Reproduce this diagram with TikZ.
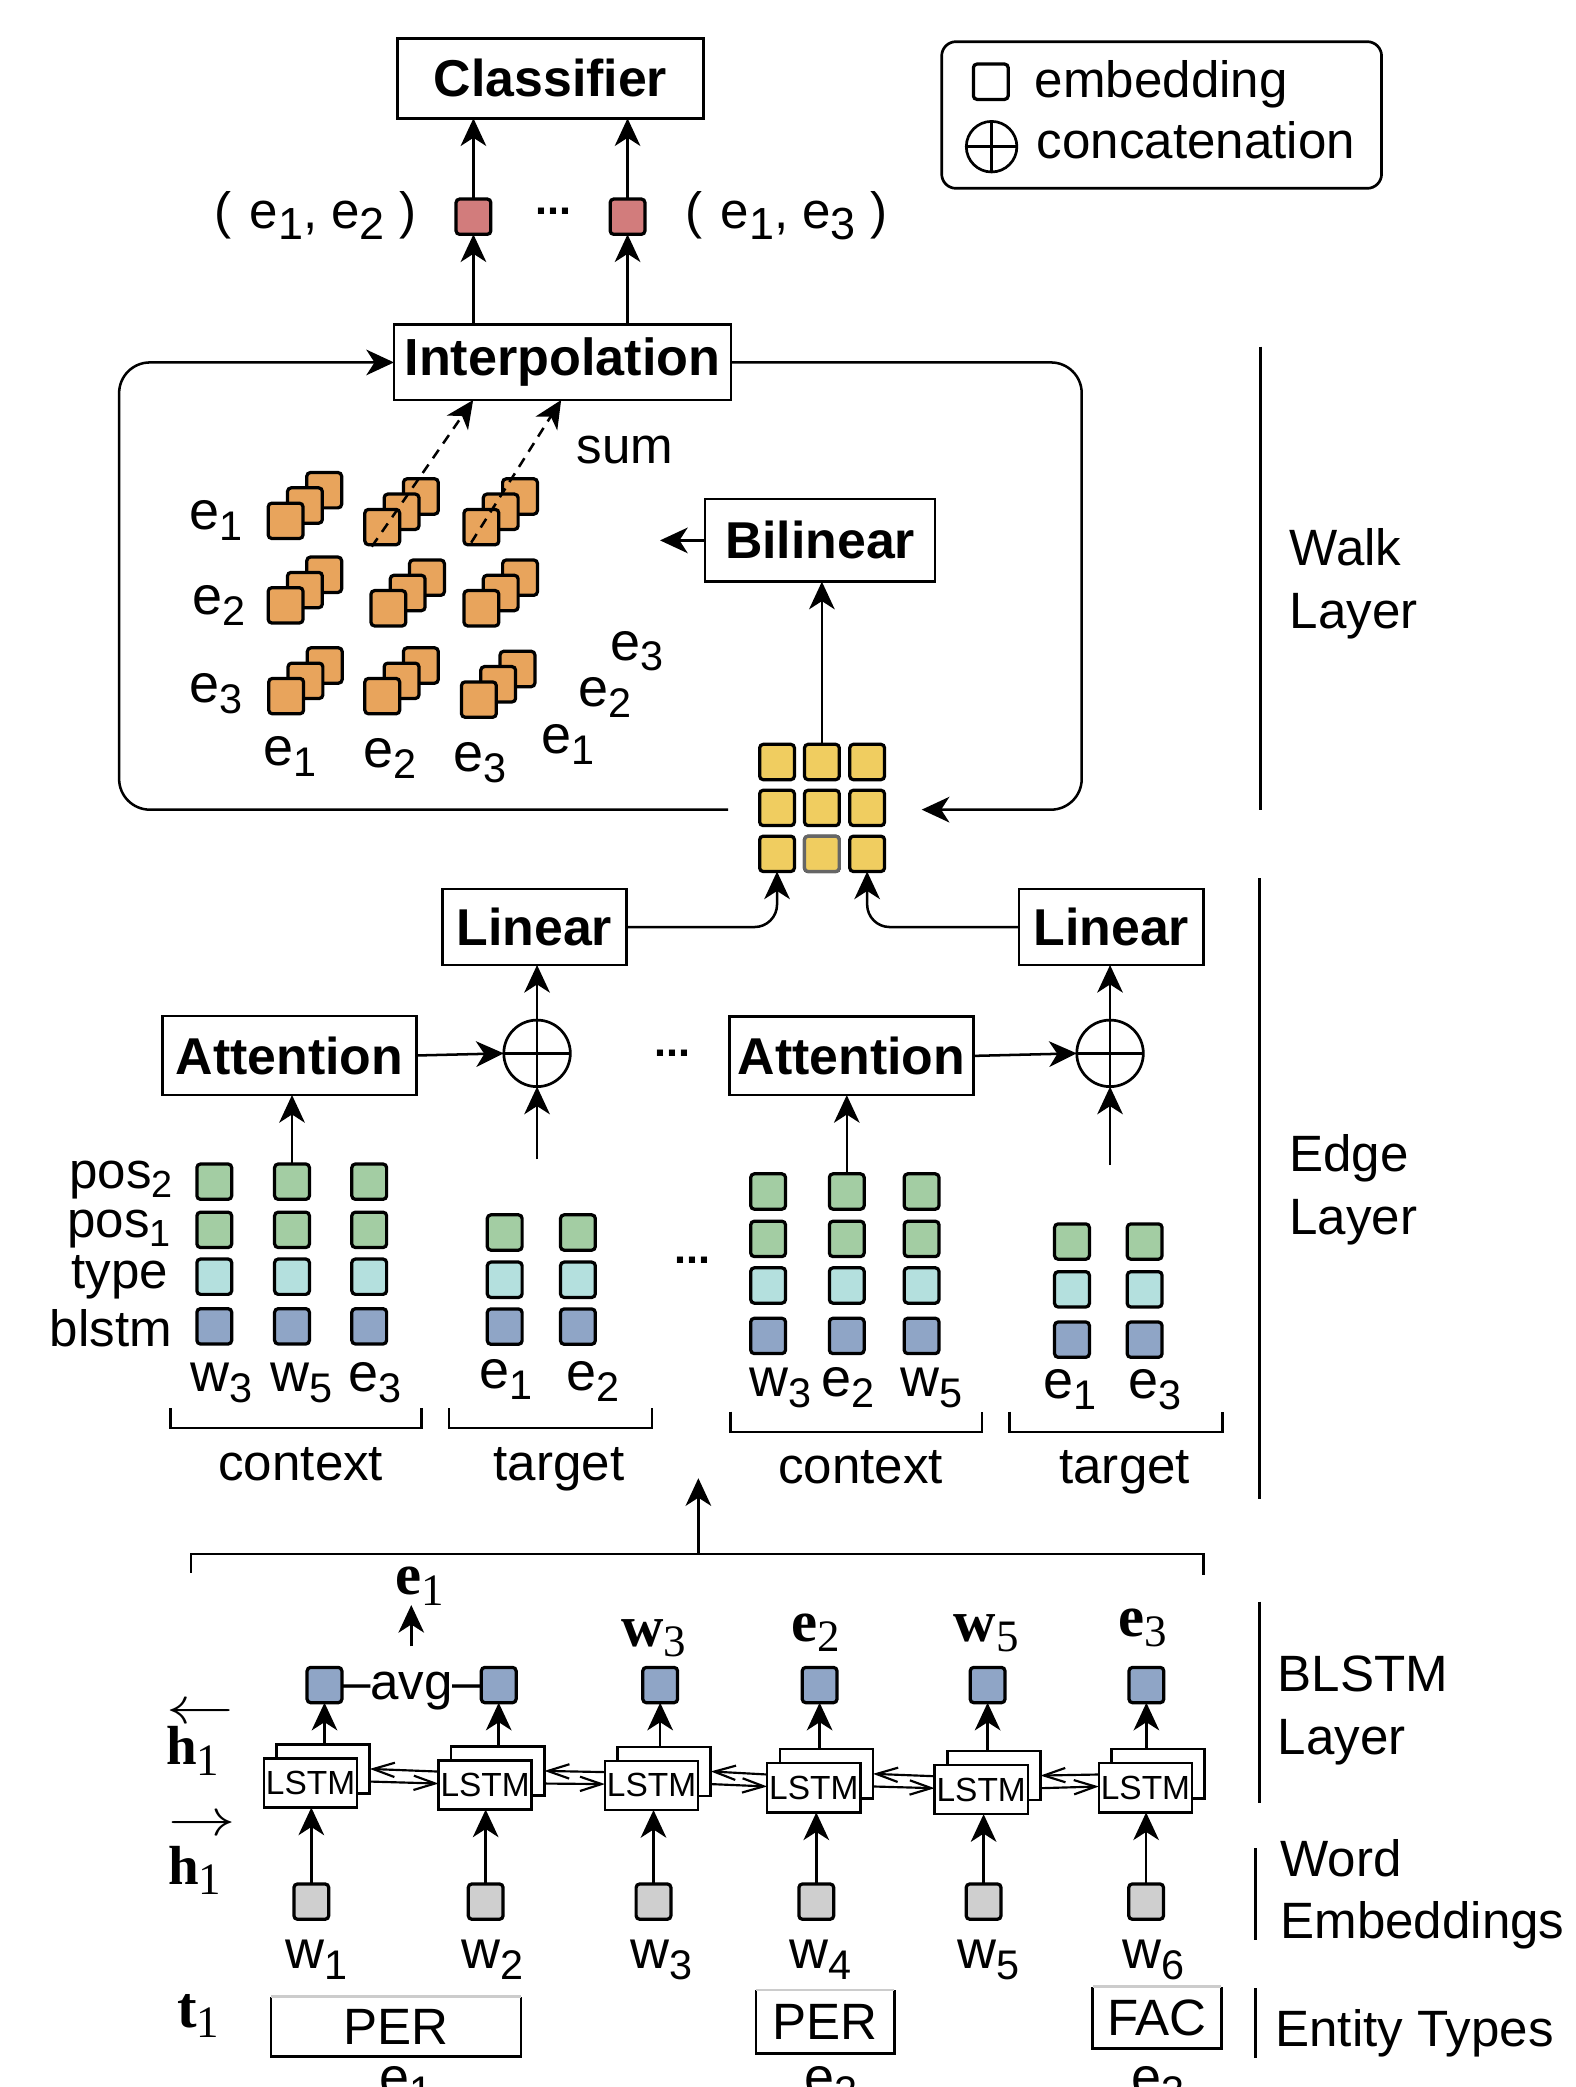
\documentclass[tikz,border=0pt]{standalone}
\usepackage{fontspec}
\usepackage{graphicx}
\setmainfont{Liberation Sans}
\newfontfamily\seriffam{Liberation Serif}
\usetikzlibrary{arrows.meta,calc}

\definecolor{pairred}{HTML}{D27C7C}
\definecolor{walkorange}{HTML}{E8A45C}
\definecolor{walkyellow}{HTML}{F0CD60}
\definecolor{posgreen}{HTML}{A3CDA3}
\definecolor{typeteal}{HTML}{B4E0DE}
\definecolor{lstmblue}{HTML}{8FA5C6}
\definecolor{wordgray}{HTML}{CFCFCF}

\newcommand\fr{\fontsize{14.2}{17}\selectfont}
\newcommand\fl{\fontsize{15}{18}\selectfont}
\newcommand\fb{\fontsize{14.4}{17}\selectfont\bfseries}
\newcommand\fs{\fontsize{16.3}{19}\selectfont}
\newcommand\sbs[1]{\raisebox{-3pt}{\fontsize{11.5}{12}\selectfont #1}}
\newcommand\sbl[1]{\raisebox{-3.2pt}{\fontsize{12.5}{13}\selectfont #1}}
\newcommand\bsym[2]{{\seriffam\bfseries #1}\raisebox{-2.8pt}{\seriffam\fontsize{12.5}{13}\selectfont #2}}
% hidden-state symbol with a direction arrow set above it
\newcommand\hdir[2]{\rlap{\raisebox{#2}{\scalebox{1.3}[1]{$#1$}}}\bsym{h}{1}}

\tikzset{
  conn/.style={line width=0.7pt},
  arr/.style={conn,-{Stealth[length=2.7mm,width=2.5mm,inset=0.8mm]}},
  barb/.style={line width=0.6pt,-{Straight Barb[length=2.1mm,width=1.4mm]}},
  sz/.style 2 args={minimum width=#1*0.13mm,minimum height=#2*0.13mm},
  blk/.style={draw,line width=0.75pt,fill=white,font=\fb},
  emb/.style={draw,line width=0.9pt,rounded corners=1pt,minimum width=3.4mm,minimum height=3.45mm,fill=#1},
  oplus/.style={circle,draw,line width=0.75pt,minimum size=#1*0.13mm,
    path picture={\draw[line width=0.75pt]
      (path picture bounding box.north) -- (path picture bounding box.south)
      (path picture bounding box.west) -- (path picture bounding box.east);}},
  lstm/.style={draw,line width=0.7pt,fill=white,sz={70}{37},font=\fontsize{9.3}{10}\selectfont},
  txt/.style={font=\fr},
  lab/.style={font=\fl},
  sec/.style={line width=0.8pt},
  dots/.style={font=\fontsize{12}{12}\selectfont\bfseries},
}

\begin{document}
\begin{tikzpicture}[x=0.13mm,y=-0.13mm,every node/.style={inner sep=0pt,outer sep=0pt}]
\useasboundingbox (0,0) rectangle (1184,1568);

% ---------------- classifier and pair scores ----------------
\node[blk,sz={230}{60}] (cls) at (413.6,58.9) {Classifier};
\node[emb=pairred] (r1) at (355.7,162.8) {};
\node[emb=pairred] (r2) at (471.5,162.8) {};
\node[txt,anchor=base east] (p12) at (312.8,171.6) {(\hspace{5pt}e\sbl{1}, e\sbl{2}\hspace{4pt})};
\node[txt,anchor=base west] (p13) at (515.2,171.6) {(\hspace{5pt}e\sbl{1}, e\sbl{3}\hspace{4pt})};
\node[dots] (dtop) at (415.5,159) {...};
\draw[arr] (r1.north) -- (r1.north |- cls.south);
\draw[arr] (r2.north) -- (r2.north |- cls.south);

% legend
\node[draw,rounded corners=1.4mm,line width=0.75pt,sz={330.5}{110.2}] (legend) at (872.75,86.4) {};
\node[emb=white] (lsq) at (744.4,61.4) {};
\node[oplus=38] (lop) at (745,110.2) {};
\node[txt,anchor=base west] (ltx1) at (777.6,73) {embedding};
\node[txt,anchor=base west] (ltx2) at (779,119) {concatenation};

% ---------------- walk layer ----------------
\node[blk,sz={253.2}{56.5},font=\fontsize{14.5}{17}\selectfont\bfseries] (interp) at (422.6,272.3) {Interpolation};
\draw[arr] (r1.south |- interp.north) -- (r1.south);
\draw[arr] (r2.south |- interp.north) -- (r2.south);

\node[blk,sz={172.8}{62}] (bil) at (616.1,406) {Bilinear};
\coordinate (bilout) at (495.9,406);
\draw[arr] (bil.west) -- (bilout);

% orange walk stacks
\foreach \i/\x/\y in {1/214.6/391.3, 2/287.2/396, 3/361.7/396,
                      4/214.6/454.8, 5/291.8/457, 6/361.7/457,
                      7/215/523, 8/287.2/523, 9/359.8/525.6}{
  \node[emb=walkorange] (o\i b) at (\x+29,\y-23) {};
  \node[emb=walkorange] (o\i m) at (\x+14.5,\y-11.5) {};
  \node[emb=walkorange] (o\i f) at (\x,\y) {};
}
% row, column and depth labels
\node[lab,anchor=base] (re1) at (162.5,398) {e\sbs{1}};
\node[lab,anchor=base] (re2) at (164.4,462) {e\sbs{2}};
\node[lab,anchor=base] (re3) at (162.5,528) {e\sbs{3}};
\node[lab,anchor=base] (ce1) at (218,575) {e\sbs{1}};
\node[lab,anchor=base] (ce2) at (293,577) {e\sbs{2}};
\node[lab,anchor=base] (ce3) at (360.5,580) {e\sbs{3}};
\node[lab,anchor=base] (de1) at (426.7,566) {e\sbs{1}};
\node[lab,anchor=base] (de2) at (454.5,531) {e\sbs{2}};
\node[lab,anchor=base] (de3) at (478.3,496) {e\sbs{3}};

% dashed sums towards interpolation
\coordinate (ds1) at (279.3,410.7);
\coordinate (ds2) at (354,407.7);
\coordinate (dx1) at (355.5,0);
\coordinate (dx2) at (421.6,0);
\draw[arr,dash pattern=on 1mm off 0.75mm] (ds1) -- (dx1 |- interp.south);
\draw[arr,dash pattern=on 1mm off 0.75mm] (ds2) -- (dx2 |- interp.south);
\node[txt,anchor=base] (sum) at (469.7,348.6) {sum};

% yellow edge grid
\foreach \r/\y in {1/572.5,2/607,3/641.5}{
  \foreach \c/\x in {1/583.8,2/617.5,3/651.5}{
    \node[emb=walkyellow] (g\r\c) at (\x,\y) {};
  }
}
\node[emb=walkyellow,draw=black!60] (g32) at (617.5,641.5) {};
\draw[arr] (g12.north) -- (g12.north |- bil.south);

% loops around the walk layer
\coordinate (gL) at (547,608.3);
\coordinate (gR) at (692.5,608.3);
\coordinate (lpL) at (89.5,0);
\coordinate (lpR) at (812.7,0);
\draw[arr,rounded corners=3mm] (gL) -- (lpL |- gL) -- (lpL |- interp.west) -- (interp.west);
\draw[arr,rounded corners=3mm] (interp.east) -- (lpR |- interp.east) -- (lpR |- gR) -- (gR);

% ---------------- edge layer ----------------
\node[blk,sz={138}{57}] (lin1) at (401.5,696.5) {Linear};
\node[blk,sz={138.8}{57}] (lin2) at (835,696.5) {Linear};
\node[blk,sz={190.7}{59.4}] (att1) at (217.4,793) {Attention};
\node[blk,sz={183.2}{58.9}] (att2) at (639.6,793.3) {Attention};
\node[oplus=50] (op1) at (403.5,791.4) {};
\node[oplus=50] (op2) at (834,791.4) {};
\node[dots] (dmid) at (505,791) {...};
\node[dots] (dlow) at (520,947) {...};

\draw[arr,rounded corners=2.2mm] (lin1.east) -| (g31.south);
\draw[arr,rounded corners=2.2mm] (lin2.west) -| (g33.south);
\draw[arr] (att1.east) -- (op1.west);
\draw[arr] (att2.east) -- (op2.west);
\draw[arr] (op1.north) -- (op1.north |- lin1.south);
\draw[arr] (op2.north) -- (op2.north |- lin2.south);
\coordinate (op1in) at (403.5,871);
\coordinate (op2in) at (834,875.3);
\draw[arr] (op1in) -- (op1.south);
\draw[arr] (op2in) -- (op2.south);

% embedding columns
\foreach \c/\x in {1/161,2/219.4,3/277.4}{
  \node[emb=posgreen] (ca\c p2) at (\x,887.8) {};
  \node[emb=posgreen] (ca\c p1) at (\x,924) {};
  \node[emb=typeteal] (ca\c t) at (\x,959.2) {};
  \node[emb=lstmblue] (ca\c b) at (\x,996.5) {};
}
\foreach \c/\x in {1/379.2,2/434.2}{
  \node[emb=posgreen] (ta\c p1) at (\x,926) {};
  \node[emb=typeteal] (ta\c t) at (\x,961.5) {};
  \node[emb=lstmblue] (ta\c b) at (\x,996.7) {};
}
\foreach \c/\x in {1/577.1,2/636.2,3/692.4}{
  \node[emb=posgreen] (cb\c p2) at (\x,895.2) {};
  \node[emb=posgreen] (cb\c p1) at (\x,930.8) {};
  \node[emb=typeteal] (cb\c t) at (\x,965.8) {};
  \node[emb=lstmblue] (cb\c b) at (\x,1003.7) {};
}
\foreach \c/\x in {1/805.4,2/860}{
  \node[emb=posgreen] (tb\c p1) at (\x,932.8) {};
  \node[emb=typeteal] (tb\c t) at (\x,968.7) {};
  \node[emb=lstmblue] (tb\c b) at (\x,1006.5) {};
}
\draw[arr] (ca2p2.north) -- (ca2p2.north |- att1.south);
\draw[arr] (cb2p2.north) -- (cb2p2.north |- att2.south);

% row labels
\node[txt,anchor=base east] (lp2) at (129.9,892.8) {pos\raisebox{-2.5pt}{\fontsize{10.5}{11}\selectfont 2}};
\node[txt,anchor=base east] (lp1) at (128.2,929.6) {pos\raisebox{-2.5pt}{\fontsize{10.5}{11}\selectfont 1}};
\node[txt,anchor=base east] (lty) at (126.5,967.8) {type};
\node[txt,anchor=base east] (lbl) at (129.2,1011.8) {blstm};

% column labels
\node[lab,anchor=base] (k1) at (166.7,1045.6) {w\sbs{3}};
\node[lab,anchor=base] (k2) at (226.3,1045.6) {w\sbs{5}};
\node[lab,anchor=base] (k3) at (281.6,1045.6) {e\sbs{3}};
\node[lab,anchor=base] (k4) at (379.8,1043) {e\sbs{1}};
\node[lab,anchor=base] (k5) at (445.2,1045) {e\sbs{2}};
\node[lab,anchor=base] (k6) at (586.5,1049.3) {w\sbs{3}};
\node[lab,anchor=base] (k7) at (637,1049.3) {e\sbs{2}};
\node[lab,anchor=base] (k8) at (700,1049.3) {w\sbs{5}};
\node[lab,anchor=base] (k9) at (803.6,1050.5) {e\sbs{1}};
\node[lab,anchor=base] (k10) at (867.8,1050.5) {e\sbs{3}};

% brackets
\draw[conn] (128.2,1058) -- (128.2,1073) -- (316.7,1073) -- (316.7,1058);
\draw[conn] (337.2,1058) -- (337.2,1073) -- (489.8,1073) -- (489.8,1058);
\draw[conn] (548.8,1060.6) -- (548.8,1076) -- (737.8,1076) -- (737.8,1060.6);
\draw[conn] (758.5,1060.6) -- (758.5,1076) -- (918.5,1076) -- (918.5,1060.6);
\node[txt,anchor=base] (bc1) at (226,1112) {context};
\node[txt,anchor=base] (bt1) at (420,1112) {target};
\node[txt,anchor=base] (bc2) at (646.7,1114.5) {context};
\node[txt,anchor=base] (bt2) at (845,1114.5) {target};

% ---------------- BLSTM layer ----------------
\draw[conn] (143.4,1181.6) -- (143.4,1167.5) -- (904.3,1167.5) -- (904.3,1183.3);
\coordinate (brk) at (524.7,1167.5);
\coordinate (edgeup) at (524.7,1110.6);
\draw[arr] (brk) -- (edgeup);

\foreach \i/\x/\y/\bx in {1/233.3/1339.5/243.8, 2/364.5/1341/374.7, 3/489.5/1341.4/496,
                          4/611.4/1343.2/615.8, 5/737.2/1344.5/742, 6/860.6/1343.2/861.3}{
  \node[lstm] (lb\i) at (\x+9.5,\y-10.5) {};
  \node[lstm] (lf\i) at (\x,\y) {LSTM};
  \node[emb=lstmblue] (hs\i) at (\bx,1266) {};
  \draw[arr] (hs\i.south |- lb\i.north) -- (hs\i.south);
}
\foreach \i/\j in {1/2,2/3,3/4,4/5,5/6}{
  \draw[barb] ($(lf\j.west)+(0,-10)$) -- (lb\i.east);
  \draw[barb] ($(lb\i.east)+(0,9.5)$) -- ($(lf\j.west)+(0,-1)$);
}

\node[txt,anchor=base] (avg) at (309.3,1277) {--avg--};
\node[font=\fs,anchor=base] (be1) at (315.7,1198.3) {\bsym{e}{1}};
\node[font=\fs,anchor=base] (bw3) at (491,1237.2) {\bsym{w}{3}};
\node[font=\fs,anchor=base] (be2) at (612.8,1233.4) {\bsym{e}{2}};
\node[font=\fs,anchor=base] (bw5) at (741,1233.4) {\bsym{w}{5}};
\node[font=\fs,anchor=base] (be3) at (858.7,1229.6) {\bsym{e}{3}};
\coordinate (avgtop) at (309,1237);
\draw[arr] (avgtop) -- (be1.south -| avgtop);

\node[font=\fontsize{15.3}{18}\selectfont,anchor=base west] (hback) at (125,1326) {\hdir{\leftarrow}{11.6pt}};
\node[font=\fontsize{15.3}{18}\selectfont,anchor=base west] (hfwd) at (126.5,1416) {\hdir{\rightarrow}{13.6pt}};

% word embeddings
\foreach \i/\x/\lx in {1/233.9/237.6,2/364.9/370,3/491/497,4/613.3/616.6,5/739/743,6/861.1/867}{
  \node[emb=wordgray] (w\i) at (\x,1428.7) {};
  \draw[arr] (w\i.north) -- (w\i.north |- lf\i.south);
  \node[lab,anchor=base] (wl\i) at (\lx,1479) {w\sbs{\i}};
}

% entity types
\node[font=\fs,anchor=base] (t1) at (149,1523) {\bsym{t}{1}};
\node[txt,sz={187.8}{45.2}] (per1) at (297.5,1522.6) {PER};
\node[txt,sz={104}{48}] (per2) at (620,1519) {PER};
\node[txt,sz={96.5}{46.4}] (fac) at (869.3,1515.8) {FAC};
\foreach \n in {per1,per2,fac}{
  \draw[line width=0.75pt] (\n.north west) -- (\n.south west) -- (\n.south east) -- (\n.north east);
  \draw[line width=0.75pt,black!20] (\n.north west) -- (\n.north east);
}
\node[lab,anchor=base] (u1) at (305,1574) {e\sbs{1}};
\node[lab,anchor=base] (u2) at (624,1574) {e\sbs{2}};
\node[lab,anchor=base] (u3) at (870,1574) {e\sbs{3}};

% ---------------- section labels ----------------
\draw[sec] (946.7,260.5) -- (946.7,608.4);
\node[txt,anchor=base west] (s1a) at (969,425) {Walk};
\node[txt,anchor=base west] (s1b) at (969,472.5) {Layer};
\draw[sec] (946.2,660) -- (946.2,1126);
\node[txt,anchor=base west] (s2a) at (968.7,880) {Edge};
\node[txt,anchor=base west] (s2b) at (968.7,927.5) {Layer};
\draw[sec] (946,1203.4) -- (946,1354.9);
\node[txt,anchor=base west] (s3a) at (960,1271) {BLSTM};
\node[txt,anchor=base west] (s3b) at (960,1318) {Layer};
\draw[sec] (943.6,1388.6) -- (943.6,1457.6);
\node[txt,anchor=base west] (s4a) at (962,1410) {Word};
\node[txt,anchor=base west] (s4b) at (962,1456.3) {Embeddings};
\draw[sec] (943.6,1493.9) -- (943.6,1546.5);
\node[txt,anchor=base west] (s5) at (958.2,1537.7) {Entity Types};
\end{tikzpicture}
\end{document}
